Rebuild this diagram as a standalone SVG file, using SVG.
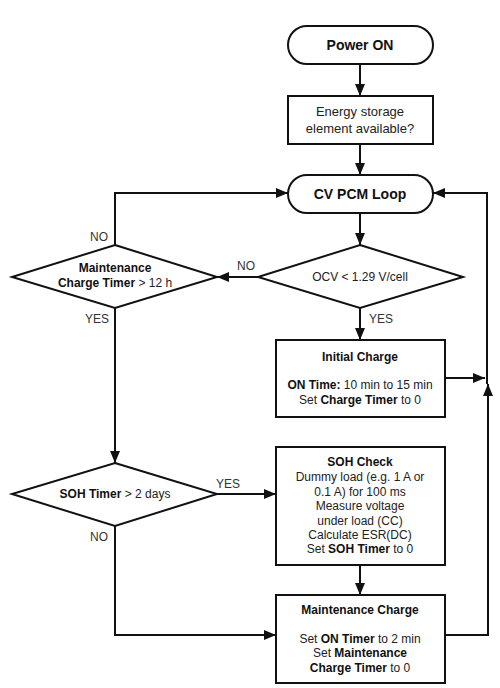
<svg xmlns="http://www.w3.org/2000/svg" width="500" height="688" viewBox="0 0 500 688">
<style>
.sh{fill:#fff;stroke:#111;stroke-width:2}
.c{fill:none;stroke:#111;stroke-width:2}
text{font-family:"Liberation Sans",Arial,sans-serif;font-size:12px;fill:#222;text-anchor:middle}
.t{font-size:14px;font-weight:bold;fill:#111}
.b{font-weight:bold;fill:#111}
.l{font-size:12px;fill:#333}
.m{font-size:13px}
</style>
<defs>
<marker id="ah" markerUnits="userSpaceOnUse" markerWidth="12" markerHeight="10" refX="12" refY="5" orient="auto">
<path d="M0,0 L12,5 L0,10 z" fill="#111"/>
</marker>
</defs>
<rect width="500" height="688" fill="#fff"/>
<g id="connectors">
<path class="c" d="M360,64 V96" marker-end="url(#ah)"/>
<path class="c" d="M360,144 V175" marker-end="url(#ah)"/>
<path class="c" d="M360,213 V245" marker-end="url(#ah)"/>
<path class="c" d="M258,277 H217" marker-end="url(#ah)"/>
<path class="c" d="M115,245 V193 H288" marker-end="url(#ah)"/>
<path class="c" d="M115,308 V463" marker-end="url(#ah)"/>
<path class="c" d="M360,308 V340" marker-end="url(#ah)"/>
<path class="c" d="M445,378 H485" marker-end="url(#ah)"/>
<path class="c" d="M217,494 H276" marker-end="url(#ah)"/>
<path class="c" d="M115,526 V635 H276" marker-end="url(#ah)"/>
<path class="c" d="M360,565 V595" marker-end="url(#ah)"/>
<path class="c" d="M445,635 H488 V384" marker-end="url(#ah)"/>
<path class="c" d="M487,384 V193 H433" marker-end="url(#ah)"/>
<text class="l" x="99" y="241">NO</text>
<text class="l" x="246" y="270">NO</text>
<text class="l" x="97" y="323">YES</text>
<text class="l" x="381" y="323">YES</text>
<text class="l" x="228" y="488">YES</text>
<text class="l" x="99" y="541">NO</text>
</g>
<g id="power-on">
<rect class="sh" x="288" y="26" width="145" height="38" rx="19"/>
<text class="t" x="360" y="50">Power ON</text>
</g>
<g id="energy-storage">
<rect class="sh" x="288" y="96" width="145" height="48"/>
<text class="m" x="360" y="116">Energy storage</text>
<text class="m" x="360" y="133">element available?</text>
</g>
<g id="cv-pcm-loop">
<rect class="sh" x="288" y="175" width="145" height="38" rx="19"/>
<text class="t" x="360" y="199">CV PCM Loop</text>
</g>
<g id="ocv-check">
<polygon class="sh" points="360,245 463,277 360,308 258,277"/>
<text x="360" y="281">OCV &lt; 1.29 V/cell</text>
</g>
<g id="maintenance-timer">
<polygon class="sh" points="115,245 217,277 115,308 12,277"/>
<text class="b" x="115" y="272">Maintenance</text>
<text x="115" y="287"><tspan class="b">Charge Timer</tspan> &gt; 12 h</text>
</g>
<g id="initial-charge">
<rect class="sh" x="276" y="340" width="169" height="77"/>
<text class="b" x="360" y="361">Initial Charge</text>
<text x="360" y="389"><tspan class="b">ON Time:</tspan> 10 min to 15 min</text>
<text x="360" y="404">Set <tspan class="b">Charge Timer</tspan> to 0</text>
</g>
<g id="soh-timer">
<polygon class="sh" points="115,463 217,494 115,526 12,494"/>
<text x="115" y="498"><tspan class="b">SOH Timer</tspan> &gt; 2 days</text>
</g>
<g id="soh-check">
<rect class="sh" x="276" y="447" width="169" height="118"/>
<text class="b" x="360" y="466">SOH Check</text>
<text x="360" y="481">Dummy load (e.g. 1 A or</text>
<text x="360" y="496">0.1 A) for 100 ms</text>
<text x="360" y="510">Measure voltage</text>
<text x="360" y="525">under load (CC)</text>
<text x="360" y="539">Calculate ESR(DC)</text>
<text x="360" y="553">Set <tspan class="b">SOH Timer</tspan> to 0</text>
</g>
<g id="maintenance-charge">
<rect class="sh" x="276" y="595" width="169" height="88"/>
<text class="b" x="360" y="614">Maintenance Charge</text>
<text x="360" y="643">Set <tspan class="b">ON Timer</tspan> to 2 min</text>
<text x="360" y="657">Set <tspan class="b">Maintenance</tspan></text>
<text x="360" y="672"><tspan class="b">Charge Timer</tspan> to 0</text>
</g>
</svg>
